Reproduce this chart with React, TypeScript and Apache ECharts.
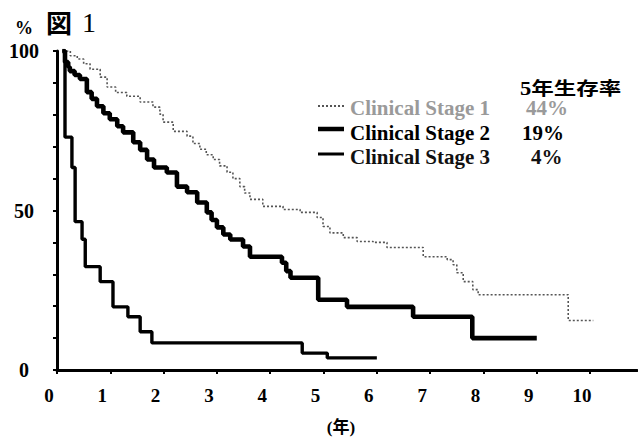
import React, { useEffect, useRef } from "react";
import * as echarts from "echarts";

// Kaplan-Meier survival curves: [years, survival %]
const stage1: number[][] = [
  [0.1, 100], [0.25, 98.5], [0.38, 97.5], [0.5, 96], [0.62, 94.3], [0.81, 91.8],
  [0.94, 88.7], [1.1, 87], [1.31, 85.8], [1.56, 84], [1.8, 82.4], [1.93, 80.2],
  [1.99, 77.7], [2.18, 74.8], [2.44, 73.3], [2.55, 71], [2.68, 69.2], [2.8, 67.5],
  [2.93, 66], [3.05, 64], [3.19, 62], [3.3, 60], [3.43, 57.5], [3.52, 55.5],
  [3.62, 53.5], [3.86, 51.3], [4.24, 50.3], [4.56, 49.4], [4.88, 47.8], [4.99, 45],
  [5.12, 43], [5.37, 41.5], [5.63, 40.3], [5.93, 40], [6.19, 38.4], [6.87, 35.5],
  [7.32, 34.6], [7.43, 33], [7.5, 30.5], [7.62, 27.7], [7.8, 25.2], [7.9, 23.6],
  [9.59, 15.5], [10.06, 15.5],
];

const stage2: number[][] = [
  [0.1, 100], [0.15, 96.5], [0.21, 95], [0.24, 93.7], [0.33, 92.5], [0.43, 91.2],
  [0.56, 87.1], [0.65, 85], [0.75, 82.7], [0.87, 80.5], [0.99, 78.6], [1.13, 76.4],
  [1.24, 74.5], [1.43, 71.4], [1.56, 69], [1.69, 66], [1.82, 63.5], [2.06, 61.9],
  [2.25, 57.5], [2.44, 55.7], [2.63, 52.5], [2.81, 49.4], [2.9, 47], [3.0, 44.7],
  [3.12, 42.5], [3.25, 40.9], [3.49, 38.7], [3.62, 35.5], [4.22, 33.6], [4.3, 31],
  [4.38, 28.9], [4.9, 22], [5.44, 19.8], [6.68, 16.7], [7.79, 10], [9.0, 10],
];

const stage3: number[][] = [
  [0.1, 100], [0.15, 73], [0.28, 63.5], [0.34, 46.5], [0.47, 41], [0.53, 32.4],
  [0.81, 27.7], [1.05, 19.8], [1.33, 16.7], [1.56, 12], [1.78, 8.5], [4.6, 5.3],
  [5.07, 3.8], [6.0, 3.8],
];

const xTickValues = [0, 1, 2, 3, 4, 5, 6, 7, 8, 9, 10];
const yLabelValues = [0, 50, 100];
const stageNames = ["Clinical Stage 1", "Clinical Stage 2", "Clinical Stage 3"];
const fiveYearRates = ["44%", "19%", "4%"];

const SERIF = "'Liberation Serif', 'Times New Roman', serif";
const CJK = "'Liberation Serif', 'Noto Sans CJK JP', sans-serif";

export default function App() {
  const ref = useRef<HTMLDivElement>(null);

  useEffect(() => {
    if (!ref.current) return;
    const chart = echarts.init(ref.current, null, { renderer: "svg" });

    const rowY = [108, 133, 157];
    const lineY = [106, 129, 154];
    const rateX = [526, 522, 531];
    const stageStyles = [
      { stroke: "#555", lineWidth: 2, lineDash: [2, 2] },
      { stroke: "#000", lineWidth: 4.5, lineDash: null },
      { stroke: "#000", lineWidth: 3, lineDash: null },
    ];
    const textColors = ["#9a9a9a", "#000", "#111"];

    const legendGraphics: any[] = [];
    stageNames.forEach((name, i) => {
      legendGraphics.push({
        type: "line",
        shape: { x1: 318, y1: lineY[i], x2: 344, y2: lineY[i] },
        style: {
          stroke: stageStyles[i].stroke,
          lineWidth: stageStyles[i].lineWidth,
          lineDash: stageStyles[i].lineDash,
        },
      });
      legendGraphics.push({
        type: "text",
        x: 350,
        y: rowY[i],
        scaleX: 1.05,
        style: {
          text: name,
          font: `bold 20px ${SERIF}`,
          fill: textColors[i],
          textVerticalAlign: "middle",
          verticalAlign: "middle",
        },
      });
      legendGraphics.push({
        type: "text",
        x: rateX[i],
        y: rowY[i],
        scaleX: 1.05,
        style: {
          text: fiveYearRates[i],
          font: `bold 20px ${SERIF}`,
          fill: textColors[i],
          textVerticalAlign: "middle",
          verticalAlign: "middle",
        },
      });
    });

    chart.setOption({
      animation: false,
      backgroundColor: "#fff",
      grid: { left: 57, right: 1, top: 51, bottom: 71, containLabel: false },
      xAxis: {
        type: "value",
        min: 0,
        max: 10.88,
        interval: 1,
        axisLine: { show: true, lineStyle: { color: "#000", width: 3 } },
        axisTick: {
          show: true,
          customValues: xTickValues,
          length: 4,
          lineStyle: { color: "#000", width: 2 },
        },
        axisLabel: {
          customValues: xTickValues,
          margin: 16,
          color: "#000",
          fontSize: 19,
          fontWeight: "bold",
          fontFamily: SERIF,
          padding: [0, 16, 0, 0],
        },
        splitLine: { show: false },
      },
      yAxis: {
        type: "value",
        min: 0,
        max: 100,
        interval: 10,
        axisLine: { show: true, lineStyle: { color: "#000", width: 3 } },
        axisTick: { show: true, length: 4, lineStyle: { color: "#000", width: 2 } },
        axisLabel: {
          customValues: yLabelValues,
          align: "center",
          margin: 33,
          color: "#000",
          fontSize: 20,
          fontWeight: "bold",
          fontFamily: SERIF,
        },
        splitLine: { show: false },
      },
      series: [
        {
          name: stageNames[0],
          type: "line",
          step: "end",
          data: stage1,
          symbol: "none",
          lineStyle: { color: "#555", width: 1.6, type: [2, 2] },
          z: 2,
        },
        {
          name: stageNames[2],
          type: "line",
          step: "end",
          data: stage3,
          symbol: "none",
          lineStyle: { color: "#000", width: 3.4 },
          z: 3,
        },
        {
          name: stageNames[1],
          type: "line",
          step: "end",
          data: stage2,
          symbol: "none",
          lineStyle: { color: "#000", width: 4.6 },
          z: 4,
        },
      ],
      graphic: [
        {
          type: "text",
          x: 15,
          y: 28,
          style: {
            text: "%",
            font: `bold 18px ${SERIF}`,
            fill: "#000",
            textVerticalAlign: "middle",
            verticalAlign: "middle",
          },
        },
        {
          type: "text",
          x: 46,
          y: 21,
          style: {
            text: "図",
            font: `bold 26px 'Noto Sans CJK JP', sans-serif`,
            fill: "#000",
            textVerticalAlign: "middle",
            verticalAlign: "middle",
          },
        },
        {
          type: "text",
          x: 82,
          y: 22,
          style: {
            text: "1",
            font: `28px ${SERIF}`,
            fill: "#000",
            textVerticalAlign: "middle",
            verticalAlign: "middle",
          },
        },
        {
          type: "text",
          x: 520,
          y: 89,
          scaleX: 1.25,
          style: {
            text: "5年生存率",
            font: `bold 18px ${CJK}`,
            fill: "#000",
            textVerticalAlign: "middle",
            verticalAlign: "middle",
          },
        },
        ...legendGraphics,
        {
          type: "text",
          x: 341,
          y: 427,
          style: {
            text: "(年)",
            font: `bold 17px ${CJK}`,
            fill: "#000",
            textAlign: "center",
            align: "center",
            textVerticalAlign: "middle",
            verticalAlign: "middle",
          },
        },
      ],
    });

    return () => chart.dispose();
  }, []);

  return (
    <div
      ref={ref}
      style={{ position: "fixed", left: 0, top: 0, width: 638, height: 441, background: "#fff" }}
    />
  );
}
